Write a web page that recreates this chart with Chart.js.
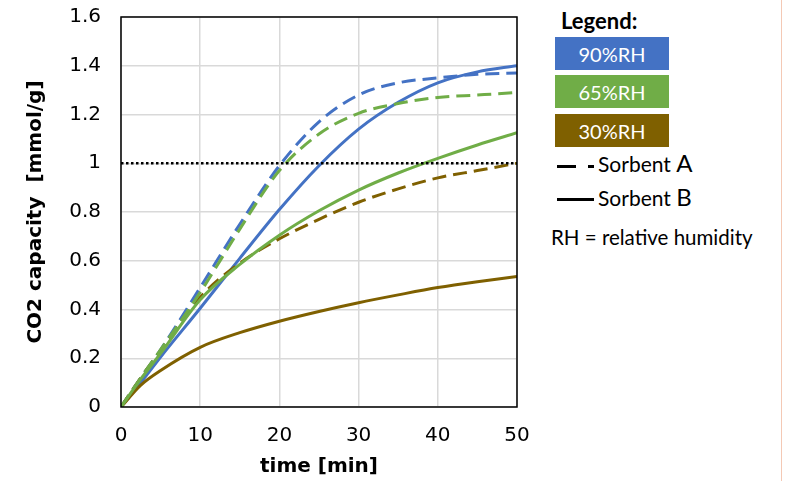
<!DOCTYPE html>
<html>
<head>
<meta charset="utf-8">
<script src="https://cdn.jsdelivr.net/npm/chart.js@4.4.0/dist/chart.umd.min.js"></script>
<style>
  body { margin: 0; background: #fff; width: 785px; height: 481px; position: relative; overflow: hidden; }
  #wrap { position: absolute; left: 0; top: 0; width: 540px; height: 481px; }
  .lg { position: absolute; font-family: Lato, "Open Sans", sans-serif; color: #000; white-space: nowrap; }
  .box { position: absolute; left: 555px; width: 114px; height: 33px; color: #fff; font-family: Lato, sans-serif;
         font-size: 20px; text-align: center; line-height: 34px; }
  .ln { position: absolute; height: 0; border-top: 3px solid #000; }
  #edge { position: absolute; left: 781px; top: 0; width: 1px; height: 481px; background: #f4c9b5; }
</style>
</head>
<body>
<div id="wrap"><canvas id="myChart" width="540" height="481"></canvas></div>

<div class="lg" style="left:561px; top:7px; font-size:22px; font-weight:bold;">Legend:</div>
<div class="box" style="top:37px; background:#4472C4;">90%RH</div>
<div class="box" style="top:75px; background:#70AD47;">65%RH</div>
<div class="box" style="top:114px; background:#7F6000;">30%RH</div>
<div class="ln" style="left:557px; top:165px; width:19px;"></div>
<div class="ln" style="left:588px; top:165px; width:6px;"></div>
<div class="lg" style="left:598px; top:148px; font-size:21px;">Sorbent <span style="font-size:24px;">A</span></div>
<div class="ln" style="left:557px; top:198px; width:37px;"></div>
<div class="lg" style="left:598px; top:182px; font-size:21px;">Sorbent <span style="font-size:24px;">B</span></div>
<div class="lg" style="left:551px; top:225px; font-size:20.5px;">RH = relative humidity</div>
<div id="edge"></div>

<script>
// time axis and measured capacities (mmol/g)
let times = [0, 2.5, 5, 10, 15, 20, 25, 30, 35, 40, 45, 50];

let rh90A = [0, 0.12, 0.235, 0.49, 0.75, 0.99, 1.17, 1.28, 1.33, 1.35, 1.365, 1.37];
let rh90B = [0, 0.10, 0.205, 0.405, 0.61, 0.81, 0.99, 1.14, 1.25, 1.33, 1.375, 1.40];
let rh65A = [0, 0.12, 0.235, 0.47, 0.73, 0.97, 1.12, 1.205, 1.245, 1.27, 1.28, 1.29];
let rh65B = [0, 0.115, 0.22, 0.44, 0.585, 0.705, 0.805, 0.89, 0.96, 1.02, 1.075, 1.125];
let rh30A = [0, 0.12, 0.23, 0.45, 0.59, 0.69, 0.77, 0.84, 0.895, 0.94, 0.97, 1.00];
let rh30B = [0, 0.09, 0.15, 0.245, 0.305, 0.352, 0.392, 0.428, 0.46, 0.49, 0.514, 0.535];

let refTimes = [0, 50];
let refLevel = [1, 1];

let xTicks = [0, 10, 20, 30, 40, 50];

function pts(xs, ys) {
    return xs.map(function (x, i) { return { x: x, y: ys[i] }; });
}

function curve(values, color, dashed) {
    return {
        data: pts(times, values),
        borderColor: color,
        borderWidth: 3,
        borderDash: dashed ? [14, 7] : [],
        pointRadius: 0,
        cubicInterpolationMode: 'monotone',
        fill: false
    };
}

// draws the black frame around the plot
const frame = {
    id: 'frame',
    afterDraw(chart) {
        const a = chart.chartArea;
        const ctx = chart.ctx;
        ctx.save();
        ctx.strokeStyle = '#000';
        ctx.lineWidth = 1.5;
        ctx.strokeRect(a.left, a.top, a.right - a.left, a.bottom - a.top);
        ctx.restore();
    }
};

function createChart() {
    var ctx = document.getElementById('myChart').getContext('2d');
    new Chart(ctx, {
        type: 'line',
        data: {
            datasets: [
                {
                    data: pts(refTimes, refLevel),
                    borderColor: '#000',
                    borderWidth: 2.5,
                    borderDash: [2.5, 2.5],
                    pointRadius: 0
                },
                curve(rh65A, '#70AD47', true),
                curve(rh65B, '#70AD47', false),
                curve(rh30A, '#7F6000', true),
                curve(rh30B, '#7F6000', false),
                curve(rh90A, '#4472C4', true),
                curve(rh90B, '#4472C4', false)
            ]
        },
        options: {
            responsive: false,
            animation: false,
            layout: { padding: { left: 0, top: 17, right: 23, bottom: 0 } },
            plugins: { legend: { display: false }, tooltip: { enabled: false } },
            scales: {
                x: {
                    type: 'linear',
                    min: 0,
                    max: 50,
                    afterBuildTicks: function (s) { s.ticks = xTicks.map(function (v) { return { value: v }; }); },
                    afterFit: function (s) { s.height = 74; },
                    grid: { color: '#D9D9D9', lineWidth: 1.5, drawTicks: true, tickLength: 17, tickColor: 'rgba(0,0,0,0)' },
                    border: { display: false },
                    ticks: { color: '#000', padding: 0, maxRotation: 0,
                             font: { family: 'DejaVu Sans', size: 20 } },
                    title: { display: true, text: 'time [min]', color: '#000',
                             padding: { top: 0, bottom: 2 },
                             font: { family: 'DejaVu Sans', size: 20, weight: 'bold' } }
                },
                y: {
                    min: 0,
                    max: 1.6,
                    afterFit: function (s) { s.width = 121; },
                    grid: { color: '#D9D9D9', lineWidth: 1.5, drawTicks: true, tickLength: 20, tickColor: 'rgba(0,0,0,0)' },
                    border: { display: false },
                    ticks: { stepSize: 0.2, color: '#000', padding: 0,
                             callback: function (v) { return Math.round(v * 10) / 10; },
                             font: { family: 'DejaVu Sans', size: 20 } },
                    title: { display: true, text: 'CO2 capacity  [mmol/g]', color: '#000',
                             padding: { top: 24, bottom: 0 },
                             font: { family: 'DejaVu Sans', size: 20, weight: 'bold' } }
                }
            }
        },
        plugins: [frame]
    });
}

createChart();
</script>
</body>
</html>
